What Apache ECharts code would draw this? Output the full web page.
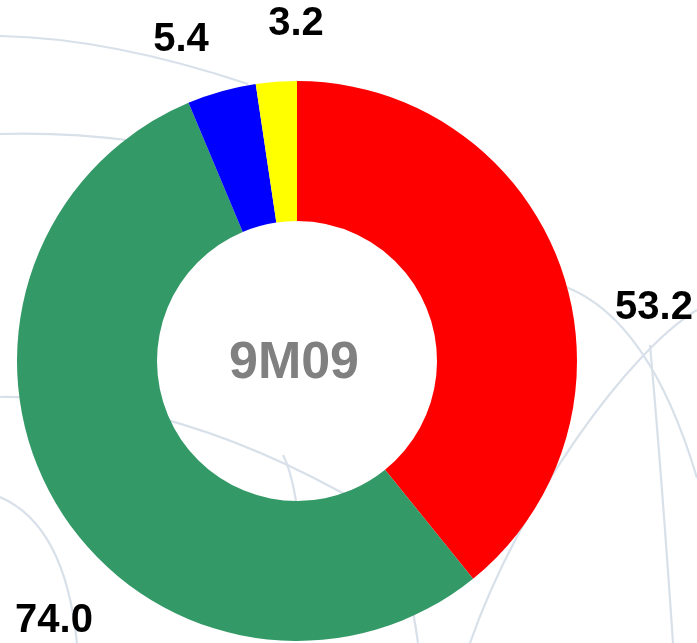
<!DOCTYPE html>
<html>
<head>
<meta charset="utf-8">
<script src="https://cdn.jsdelivr.net/npm/echarts@6/dist/echarts.min.js"></script>
<style>
    html, body { margin: 0; padding: 0; background: #fff; }
    #chart { width: 697px; height: 643px; }
</style>
</head>
<body>
<div id="chart"></div>
<script>
    // data
    const categories = ['A', 'B', 'C', 'D'];
    const values = [53.2, 74.0, 5.4, 3.2];
    const colors = ['#ff0000', '#339966', '#0000ff', '#ffff00'];
    const centerText = '9M09';

    // where each value label sits (outside the ring)
    const labelPos = [[654, 308], [54, 621], [181, 40], [296, 24]];

    const lineColor = '#d8e0e9';
    function bgLine(shape) {
        return {
            type: 'bezierCurve',
            silent: true,
            z: 0,
            shape: shape,
            style: { stroke: lineColor, lineWidth: 2.2, fill: null }
        };
    }

    const pieData = [];
    for (let i = 0; i < values.length; i++) {
        pieData.push({
            name: categories[i],
            value: values[i],
            itemStyle: { color: colors[i] }
        });
    }

    let chartDom = document.getElementById('chart');
    let myChart = echarts.init(chartDom);
    let option = {
        backgroundColor: '#fff',
        animation: false,
        // faint globe lines behind the ring
        graphic: [
            bgLine({ x1: 0, y1: 36, x2: 248, y2: 84, cpx1: 110, cpy1: 38 }),
            bgLine({ x1: 0, y1: 134, x2: 135, y2: 141, cpx1: 65, cpy1: 132 }),
            bgLine({ x1: 0, y1: 397, x2: 420, y2: 540, cpx1: 200, cpy1: 395 }),
            bgLine({ x1: 283, y1: 455, x2: 298, y2: 515, cpx1: 293, cpy1: 475 }),
            bgLine({ x1: 0, y1: 497, x2: 77, y2: 643, cpx1: 65, cpy1: 525 }),
            bgLine({ x1: 566, y1: 287, x2: 697, y2: 478, cpx1: 650, cpy1: 320 }),
            bgLine({ x1: 697, y1: 310, x2: 470, y2: 643, cpx1: 630, cpy1: 350, cpx2: 520, cpy2: 500 }),
            bgLine({ x1: 650, y1: 345, x2: 673, y2: 643, cpx1: 662, cpy1: 480 }),
            bgLine({ x1: 413, y1: 612, x2: 418, y2: 643, cpx1: 416, cpy1: 628 }),
            {
                type: 'text',
                silent: true,
                z: 10,
                x: 294,
                y: 364,
                style: {
                    text: centerText,
                    fill: '#808080',
                    font: 'bold 52px "Liberation Sans", Arial, sans-serif',
                    textAlign: 'center',
                    textVerticalAlign: 'middle'
                }
            }
        ],
        series: [{
            type: 'pie',
            center: [297, 361],
            radius: [140, 280],
            startAngle: 90,
            clockwise: true,
            z: 5,
            emphasis: { disabled: true },
            itemStyle: { borderWidth: 0 },
            label: {
                show: true,
                position: 'outside',
                overflow: 'none',
                formatter: function (p) { return p.value.toFixed(1); },
                color: '#000',
                fontFamily: '"Liberation Sans", Arial, sans-serif',
                fontWeight: 'bold',
                fontSize: 40
            },
            labelLine: { show: false },
            labelLayout: function (params) {
                const pos = labelPos[params.dataIndex];
                return {
                    x: pos[0],
                    y: pos[1],
                    align: 'center',
                    verticalAlign: 'middle',
                    hideOverlap: false
                };
            },
            data: pieData
        }]
    };
    myChart.setOption(option);
</script>
</body>
</html>
